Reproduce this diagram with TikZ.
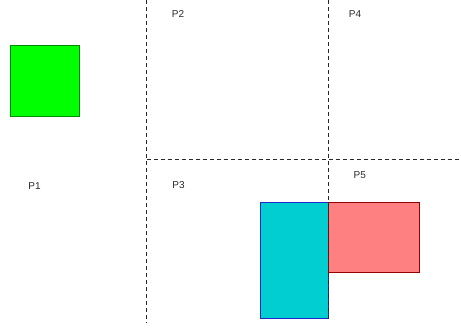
\documentclass[tikz,border=0pt]{standalone}
\usepackage{fontspec}
\setmainfont{Liberation Sans}
\usetikzlibrary{positioning}
\definecolor{lime}{RGB}{0,255,0}
\definecolor{limeD}{RGB}{0,140,0}
\definecolor{teal}{RGB}{0,206,209}
\definecolor{tealD}{RGB}{30,40,200}
\definecolor{rose}{RGB}{255,128,128}
\definecolor{roseD}{RGB}{150,0,0}
\definecolor{ink}{RGB}{40,40,40}
\tikzset{
  blk/.style={draw,line width=0.8pt,inner sep=0pt,anchor=north west},
  part/.style={font=\fontsize{10}{12}\selectfont,text=ink,inner sep=0pt},
  cut/.style={ink,dashed,dash pattern=on 4pt off 3pt,line width=1pt},
}
\begin{document}
\begin{tikzpicture}[x=1pt,y=-1pt]
  \useasboundingbox (0,0) rectangle (461,327);
  % blocks
  \node[blk,fill=lime,draw=limeD,minimum width=68.5pt,minimum height=71pt] (G) at (10,45) {};
  \node[blk,fill=teal,draw=tealD,minimum width=68.5pt,minimum height=116pt] (C) at (259.5,201.7) {};
  \node[blk,fill=rose,draw=roseD,minimum width=91pt,minimum height=70.5pt] (R) at (328,201.7) {};
  % partition labels
  \node[part] (P1) at (34.5,186) {P1};
  \node[part] (P2) at (178,14.5) {P2};
  \node[part] (P3) at (178.5,185.5) {P3};
  \node[part] (P4) at (355,14.5) {P4};
  \node[part] (P5) at (359.7,175) {P5};
  % cut lines
  \coordinate (a1) at (146.5,0);   \coordinate (a2) at (146.5,323);
  \coordinate (b1) at (328,0);     \coordinate (b2) at (328,320);
  \coordinate (h1) at (146.5,159); \coordinate (h2) at (461,159);
  \draw[cut] (a1) -- (a2);
  \draw[cut] (b1) -- (b2);
  \draw[cut] (h1) -- (h2);
\end{tikzpicture}
\end{document}
